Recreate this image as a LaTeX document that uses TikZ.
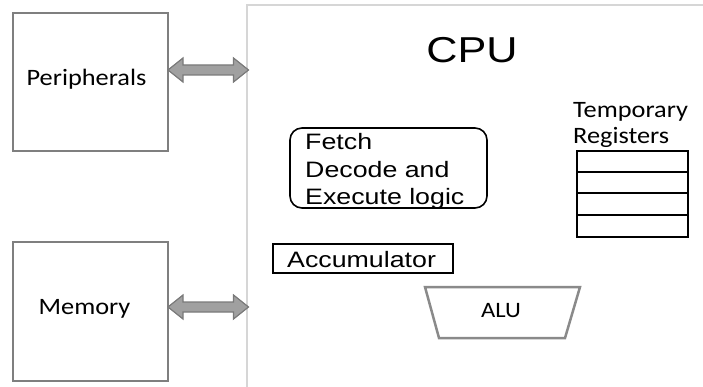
\documentclass[tikz,border=0pt]{standalone}
\usepackage{fontspec}
\newfontfamily\arialf[FakeStretch=1.2]{Liberation Sans}
\newfontfamily\calf[FakeStretch=1.12]{Carlito}
\usetikzlibrary{calc}
\definecolor{boxgray}{HTML}{7F7F7F}
\definecolor{cpugray}{HTML}{D6D6D6}
\definecolor{busfill}{HTML}{A0A0A0}
\definecolor{busline}{HTML}{7A7A7A}
\definecolor{alugray}{HTML}{8A8A8A}

% double-headed bus arrow between two named points on one horizontal line
\newcommand\busarrow[2]{%
  \draw[bus] let \p1=(#1), \p2=(#2) in
    (\x1,\y1) -- (\x1+15pt,\y1+12pt) -- (\x1+15pt,\y1+5pt) -- (\x2-15pt,\y1+5pt)
    -- (\x2-15pt,\y1+12pt) -- (\x2,\y1) -- (\x2-15pt,\y1-12pt) -- (\x2-15pt,\y1-5pt)
    -- (\x1+15pt,\y1-5pt) -- (\x1+15pt,\y1-12pt) -- cycle;}

\begin{document}
\begin{tikzpicture}[x=1pt,y=-1pt,
  unitbox/.style={draw=boxgray, line width=2pt, inner sep=0pt, minimum width=155pt},
  bus/.style={fill=busfill, draw=busline, line width=1.2pt, line join=miter},
  calibri/.style={font=\calf\fontsize{23.5}{26}\selectfont, inner sep=0pt},
  arial/.style={font=\arialf\fontsize{22.3}{27.5}\selectfont, inner sep=0pt},
  logicbox/.style={draw, line width=1.6pt, rounded corners=12pt, inner sep=0pt},
  blackbox/.style={draw, line width=2pt, inner sep=0pt},
]
\useasboundingbox (0,0) rectangle (703,387);

% CPU enclosure (runs off to the right and bottom)
\draw[cpugray, line width=1.6pt] (710,5) -- (247,5) -- (247,395);
\node[font=\arialf\fontsize{36}{40}\selectfont, inner sep=0pt, anchor=base] (cpu) at (472,63) {CPU};

% external units
\node[unitbox, minimum height=138pt] (per) at (90.5,82) {};
\node[calibri, anchor=base] (pertext) at (86.5,86) {Peripherals};
\node[unitbox, minimum height=139pt] (mem) at (90.5,311.5) {};
\node[calibri, anchor=base] (memtext) at (84.5,314) {Memory};

% buses to the CPU
\coordinate (pa) at (168,70);
\coordinate (pb) at (248.5,70);
\coordinate (ma) at (168,307);
\coordinate (mb) at (248.5,307);
\busarrow{pa}{pb}
\busarrow{ma}{mb}

% fetch / decode / execute logic
\node[logicbox, minimum width=197pt, minimum height=80pt] (fdx) at (388.5,168) {};
\node[arial, anchor=base west, align=left] (fdxtext) at (305,205) {Fetch\\Decode and\\Execute logic};

% accumulator
\node[blackbox, minimum width=180pt, minimum height=29pt] (acc) at (363,258.5) {};
\node[arial, anchor=base west] (acctext) at (287,267) {Accumulator};

% ALU
\draw[alugray, line width=2.5pt, fill=white] (425,287) -- (580,287) -- (565,338) -- (439,338) -- cycle;
\node[calibri, font=\calf\fontsize{22}{26}\selectfont, anchor=base] (alu) at (501,317) {ALU};

% temporary registers
\node[calibri, anchor=base west, align=left] (regtext) at (573,144) {Temporary\\Registers};
\node[blackbox, minimum width=111pt, minimum height=86pt] (regs) at (632.5,194) {};
\foreach \yy in {172,193,215}
  \draw[line width=2pt] (regs.west |- 0,\yy) -- (regs.east |- 0,\yy);
\end{tikzpicture}
\end{document}
